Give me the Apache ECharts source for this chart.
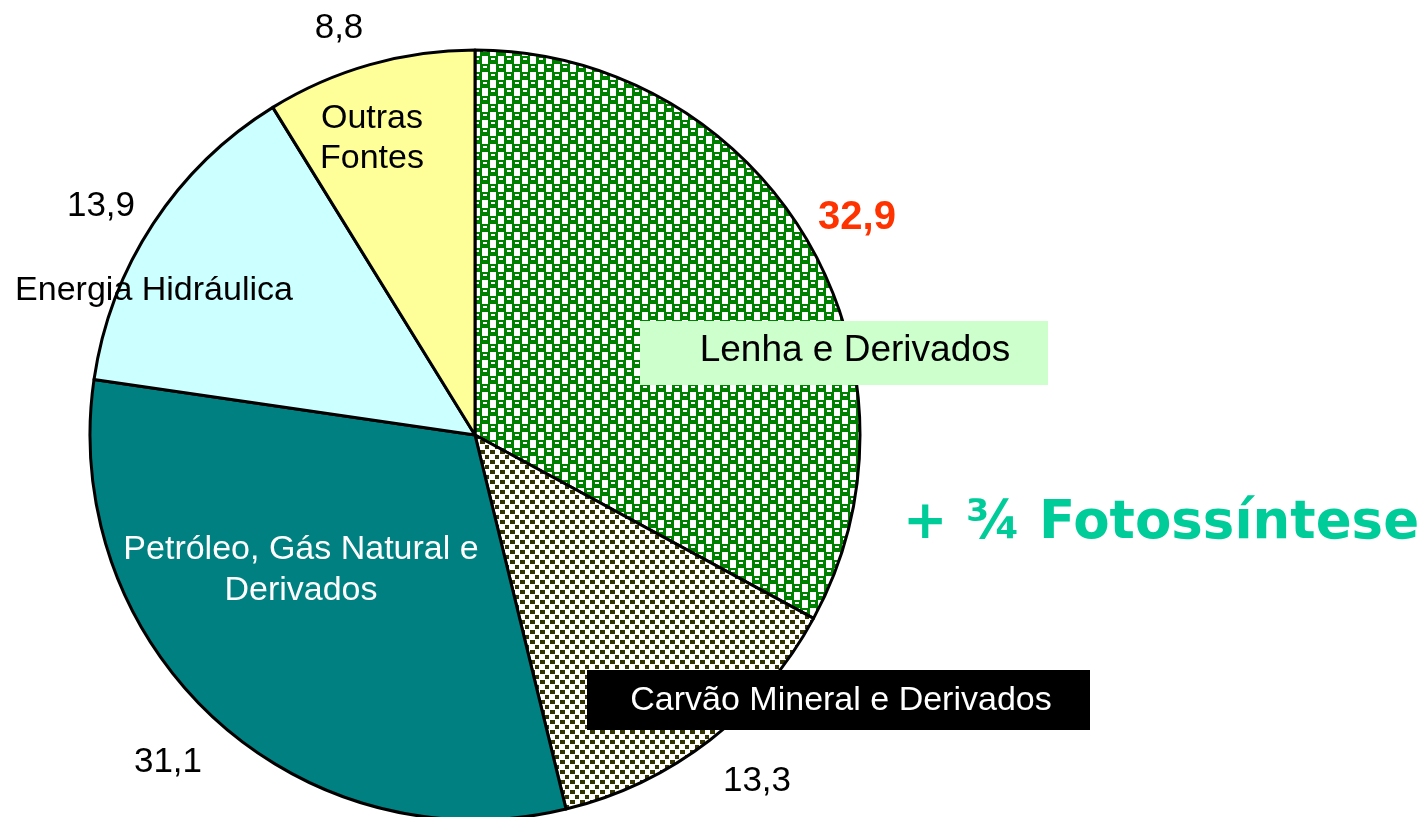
<!DOCTYPE html>
<html>
<head>
<meta charset="utf-8">
<script src="https://cdn.jsdelivr.net/npm/echarts@6/dist/echarts.min.js"></script>
<style>
html,body{margin:0;padding:0;background:#fff;}
#chart{width:1427px;height:817px;}
</style>
</head>
<body>
<div id="chart"></div>
<script>
// ---- data ----
const categories = ['Lenha e Derivados', 'Carvão Mineral e Derivados', 'Petróleo, Gás Natural e Derivados', 'Energia Hidráulica', 'Outras Fontes'];
const values = [32.9, 13.3, 31.1, 13.9, 8.8];
const nameLabels = ['Lenha e Derivados', 'Carvão Mineral e Derivados', 'Petróleo, Gás Natural e\nDerivados', 'Energia Hidráulica', 'Outras\nFontes'];
const annotation = '+ ¾ Fotossíntese';

// ---- styles / layout ----
function makePattern(draw, w, h) {
  const c = document.createElement('canvas');
  c.width = w; c.height = h;
  const ctx = c.getContext('2d');
  draw(ctx);
  return { image: c, repeat: 'repeat' };
}
const greenPattern = makePattern(function (ctx) {
  ctx.fillStyle = '#ffffff'; ctx.fillRect(0, 0, 16, 16);
  ctx.fillStyle = '#008000';
  ctx.fillRect(0, 0, 10, 8);
  ctx.fillRect(8, 8, 8, 8);
  ctx.fillRect(0, 8, 2, 8);
  ctx.fillStyle = '#ffffff';
  ctx.fillRect(3, 2, 4, 2);
  ctx.fillRect(11, 10, 4, 2);
}, 16, 16);
const coalPattern = makePattern(function (ctx) {
  ctx.fillStyle = '#ffffff'; ctx.fillRect(0, 0, 10, 10);
  ctx.fillStyle = '#333300';
  ctx.fillRect(0, 0, 5, 4);
  ctx.fillRect(5, 5, 4, 4);
}, 10, 10);
const sliceColors = [greenPattern, coalPattern, '#008080', '#CCFFFF', '#FFFF99'];

const nameStyle = [
  { x: 855, y: 351, size: 37, color: '#000', box: { x: 640, y: 321, w: 408, h: 64, fill: '#CCFFCC' } },
  { x: 841, y: 701, size: 34, color: '#fff', box: { x: 587, y: 670, w: 503, h: 60, fill: '#000000' } },
  { x: 301, y: 570, size: 34, color: '#fff', lh: 41 },
  { x: 154, y: 291, size: 34, color: '#000' },
  { x: 372, y: 139, size: 34, color: '#000', lh: 40 }
];
const valueStyle = [
  { x: 857, y: 218, size: 40, color: '#FF3300', bold: true },
  { x: 757, y: 781, size: 35, color: '#000' },
  { x: 168, y: 762, size: 35, color: '#000' },
  { x: 101, y: 206, size: 35, color: '#000' },
  { x: 339, y: 28, size: 35, color: '#000' }
];

const graphics = [];
values.forEach(function (v, i) {
  const ns = nameStyle[i];
  if (ns.box) {
    graphics.push({ type: 'rect', z: 10, shape: { x: ns.box.x, y: ns.box.y, width: ns.box.w, height: ns.box.h }, style: { fill: ns.box.fill } });
  }
  graphics.push({
    type: 'text', z: 11, x: ns.x, y: ns.y,
    style: { text: nameLabels[i], align: 'center', verticalAlign: 'middle', fill: ns.color,
      font: ns.size + 'px "Liberation Sans", Arial, sans-serif', lineHeight: ns.lh || ns.size }
  });
  const vs = valueStyle[i];
  graphics.push({
    type: 'text', z: 11, x: vs.x, y: vs.y,
    style: { text: v.toFixed(1).replace('.', ','), align: 'center', verticalAlign: 'middle', fill: vs.color,
      font: (vs.bold ? 'bold ' : '') + vs.size + 'px "Liberation Sans", Arial, sans-serif' }
  });
});
graphics.push({
  type: 'text', z: 11, x: 1161, y: 524,
  style: { text: annotation, align: 'center', verticalAlign: 'middle', fill: '#00CC99',
    font: 'bold 53px "DejaVu Sans", Verdana, sans-serif' }
});

const chart = echarts.init(document.getElementById('chart'), null, { renderer: 'canvas' });
chart.setOption({
  animation: false,
  backgroundColor: '#ffffff',
  series: [{
    type: 'pie',
    center: [475, 435],
    radius: [0, 385],
    startAngle: 90,
    clockwise: true,
    label: { show: false },
    labelLine: { show: false },
    emphasis: { disabled: true },
    itemStyle: { borderColor: '#000', borderWidth: 3 },
    data: categories.map(function (c, i) {
      return { name: c, value: values[i], itemStyle: { color: sliceColors[i] } };
    })
  }],
  graphic: graphics
});
</script>
</body>
</html>
